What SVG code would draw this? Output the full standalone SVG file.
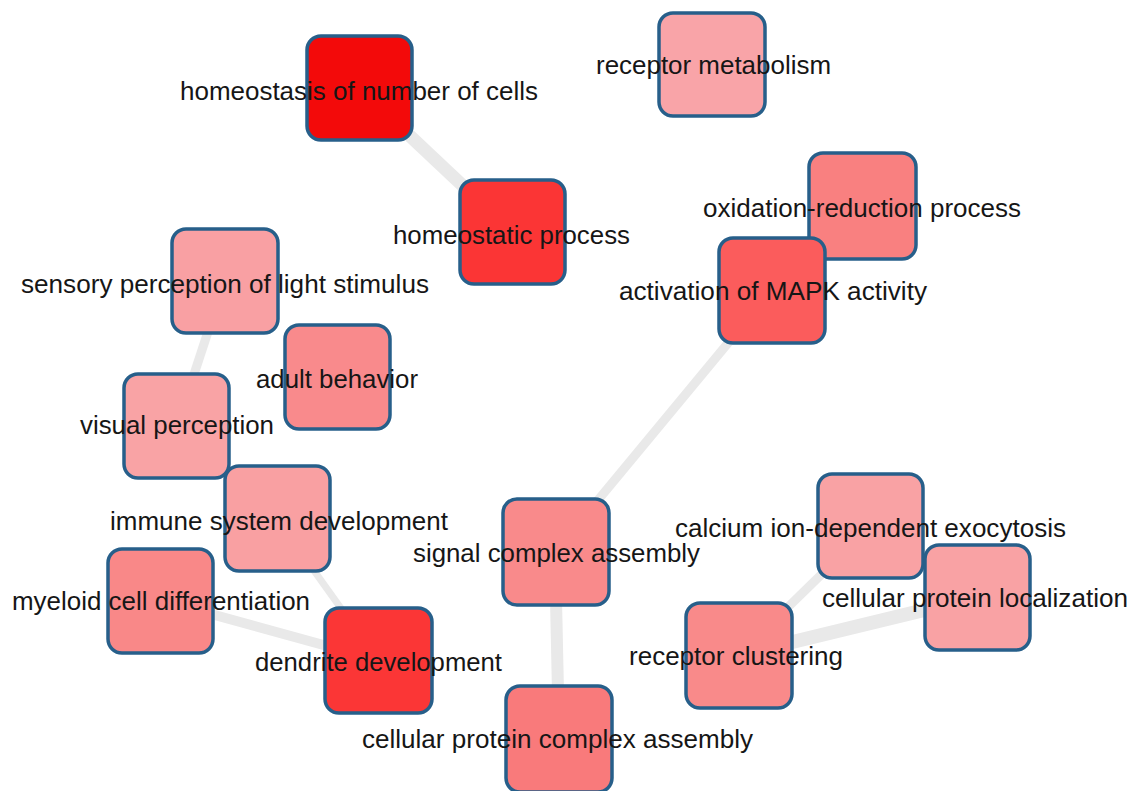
<svg xmlns="http://www.w3.org/2000/svg" width="1137" height="791" viewBox="0 0 1137 791">
<style>
.n{stroke:#275f8a;stroke-width:3.5}
.t{font-family:"Liberation Sans",Arial,sans-serif;font-size:25px;fill:#161616}
.e{stroke:#e9e9e9;stroke-linecap:butt;fill:none}
</style>
<rect width="1137" height="791" fill="#ffffff"/>
<g id="connectors">
<line class="e" x1="359" y1="88" x2="512" y2="232" stroke-width="13"/>
<line class="e" x1="225" y1="280" x2="177" y2="426" stroke-width="9"/>
<line class="e" x1="277" y1="519" x2="378" y2="660" stroke-width="7"/>
<line class="e" x1="160" y1="600" x2="378" y2="660" stroke-width="10"/>
<line class="e" x1="555" y1="552" x2="772" y2="290" stroke-width="9"/>
<line class="e" x1="555" y1="552" x2="559" y2="740" stroke-width="12"/>
<line class="e" x1="739" y1="655" x2="871" y2="526" stroke-width="9"/>
<line class="e" x1="739" y1="655" x2="978" y2="597" stroke-width="14"/>
</g>
<g id="n-homeostasis-number-cells"><rect class="n" x="307" y="36" width="105" height="104" rx="14" fill="#f30a0a"/><text class="t" x="180" y="100" textLength="358" lengthAdjust="spacingAndGlyphs">homeostasis of number of cells</text></g>
<g id="n-homeostatic-process"><rect class="n" x="460" y="180" width="105" height="104" rx="14" fill="#fb3535"/><text class="t" x="393" y="244" textLength="237" lengthAdjust="spacingAndGlyphs">homeostatic process</text></g>
<g id="n-receptor-metabolism"><rect class="n" x="659" y="13" width="106" height="103" rx="14" fill="#f9a4a8"/><text class="t" x="596" y="74" textLength="235" lengthAdjust="spacingAndGlyphs">receptor metabolism</text></g>
<g id="n-oxidation-reduction"><rect class="n" x="809" y="153" width="107" height="106" rx="14" fill="#f98080"/><text class="t" x="703" y="217" textLength="318" lengthAdjust="spacingAndGlyphs">oxidation-reduction process</text></g>
<g id="n-activation-mapk"><rect class="n" x="719" y="238" width="106" height="105" rx="14" fill="#fb5c5c"/><text class="t" x="619" y="300" textLength="308" lengthAdjust="spacingAndGlyphs">activation of MAPK activity</text></g>
<g id="n-sensory-perception"><rect class="n" x="172" y="229" width="106" height="104" rx="14" fill="#f9a0a3"/><text class="t" x="21" y="293" textLength="408" lengthAdjust="spacingAndGlyphs">sensory perception of light stimulus</text></g>
<g id="n-adult-behavior"><rect class="n" x="285" y="325" width="105" height="104" rx="14" fill="#f98a8c"/><text class="t" x="256" y="388" textLength="162" lengthAdjust="spacingAndGlyphs">adult behavior</text></g>
<g id="n-immune-system-development"><rect class="n" x="225" y="466" width="105" height="105" rx="14" fill="#f9a0a2"/><text class="t" x="110" y="530" textLength="338" lengthAdjust="spacingAndGlyphs">immune system development</text></g>
<g id="n-visual-perception"><rect class="n" x="124" y="374" width="105" height="104" rx="14" fill="#f9a3a5"/><text class="t" x="80" y="434" textLength="194" lengthAdjust="spacingAndGlyphs">visual perception</text></g>
<g id="n-myeloid-cell-differentiation"><rect class="n" x="108" y="549" width="105" height="104" rx="14" fill="#f98888"/><text class="t" x="12" y="610" textLength="298" lengthAdjust="spacingAndGlyphs">myeloid cell differentiation</text></g>
<g id="n-dendrite-development"><rect class="n" x="325" y="608" width="107" height="105" rx="14" fill="#fb3636"/><text class="t" x="255" y="671" textLength="247" lengthAdjust="spacingAndGlyphs">dendrite development</text></g>
<g id="n-signal-complex-assembly"><rect class="n" x="503" y="499" width="106" height="106" rx="14" fill="#f98a8b"/><text class="t" x="413" y="562" textLength="287" lengthAdjust="spacingAndGlyphs">signal complex assembly</text></g>
<g id="n-cellular-protein-complex-assembly"><rect class="n" x="506" y="686" width="106" height="106" rx="14" fill="#f97a7b"/><text class="t" x="362" y="748" textLength="391" lengthAdjust="spacingAndGlyphs">cellular protein complex assembly</text></g>
<g id="n-calcium-exocytosis"><rect class="n" x="818" y="474" width="105" height="104" rx="14" fill="#f9a2a4"/><text class="t" x="675" y="537" textLength="391" lengthAdjust="spacingAndGlyphs">calcium ion-dependent exocytosis</text></g>
<g id="n-cellular-protein-localization"><rect class="n" x="925" y="545" width="105" height="105" rx="14" fill="#f9a2a4"/><text class="t" x="822" y="607" textLength="306" lengthAdjust="spacingAndGlyphs">cellular protein localization</text></g>
<g id="n-receptor-clustering"><rect class="n" x="686" y="603" width="106" height="105" rx="14" fill="#f98a8a"/><text class="t" x="629" y="665" textLength="214" lengthAdjust="spacingAndGlyphs">receptor clustering</text></g>
</svg>
